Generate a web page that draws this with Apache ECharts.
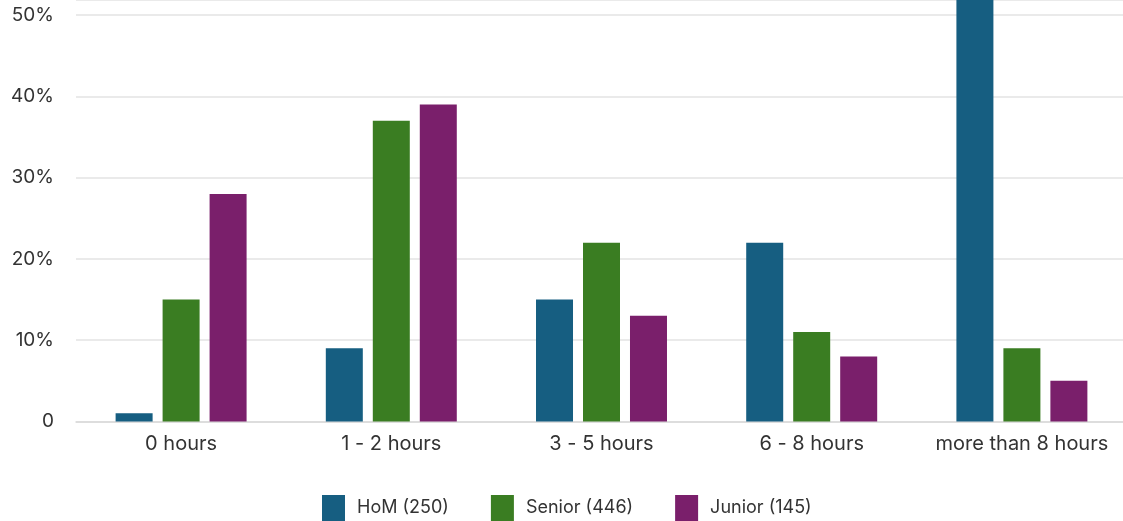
<!DOCTYPE html>
<html>
<head>
<meta charset="utf-8">
<script src="https://cdn.jsdelivr.net/npm/echarts@6/dist/echarts.min.js"></script>
<style>
  html, body { margin: 0; padding: 0; background: #fff; overflow: hidden; }
  #chart { width: 1130px; height: 521px; }
</style>
</head>
<body>
<div id="chart"></div>
<script>
// categories and series values (percent)
const categories = ['0 hours', '1 - 2 hours', '3 - 5 hours', '6 - 8 hours', 'more than 8 hours']
const seriesNames = ['HoM (250)', 'Senior (446)', 'Junior (145)']
const homValues = [1, 9, 15, 22, 53]
const seniorValues = [15, 37, 22, 11, 9]
const juniorValues = [28, 39, 13, 8, 5]
const colors = ['#165e81', '#3a7d22', '#7a1f6b']

const chart = echarts.init(document.getElementById('chart'))
const font = { fontFamily: 'Inter', color: '#333' }

const makeBar = (name, data, i) => ({
  name: name,
  type: 'bar',
  data: data,
  barWidth: 37,
  barGap: '27%',
  itemStyle: { color: colors[i] }
})

chart.setOption({
  animation: false,
  grid: { left: 76, right: 3, top: 0, height: 421.5, containLabel: false },
  legend: {
    top: 495,
    left: 322,
    padding: 0,
    itemWidth: 23,
    itemHeight: 26,
    itemGap: 42,
    icon: 'rect',
    textStyle: Object.assign({ fontSize: 18, padding: [0, 0, 0, 7] }, font),
    data: seriesNames
  },
  xAxis: {
    type: 'category',
    data: categories,
    axisLine: { lineStyle: { color: '#d9d9d9', width: 1.5 } },
    axisTick: { show: false },
    axisLabel: Object.assign({ margin: 12, fontSize: 20, interval: 0 }, font)
  },
  yAxis: {
    type: 'value',
    min: 0,
    max: 51.85,
    interval: 10,
    axisLine: { show: false },
    axisTick: { show: false },
    splitLine: { lineStyle: { color: '#e3e3e3', width: 1.5 } },
    axisLabel: Object.assign({
      margin: 22,
      fontSize: 19,
      formatter: v => (v % 10 !== 0 ? '' : (v === 0 ? '0' : v + '%'))
    }, font)
  },
  series: [
    makeBar(seriesNames[0], homValues, 0),
    makeBar(seriesNames[1], seniorValues, 1),
    makeBar(seriesNames[2], juniorValues, 2)
  ]
})
</script>
</body>
</html>
